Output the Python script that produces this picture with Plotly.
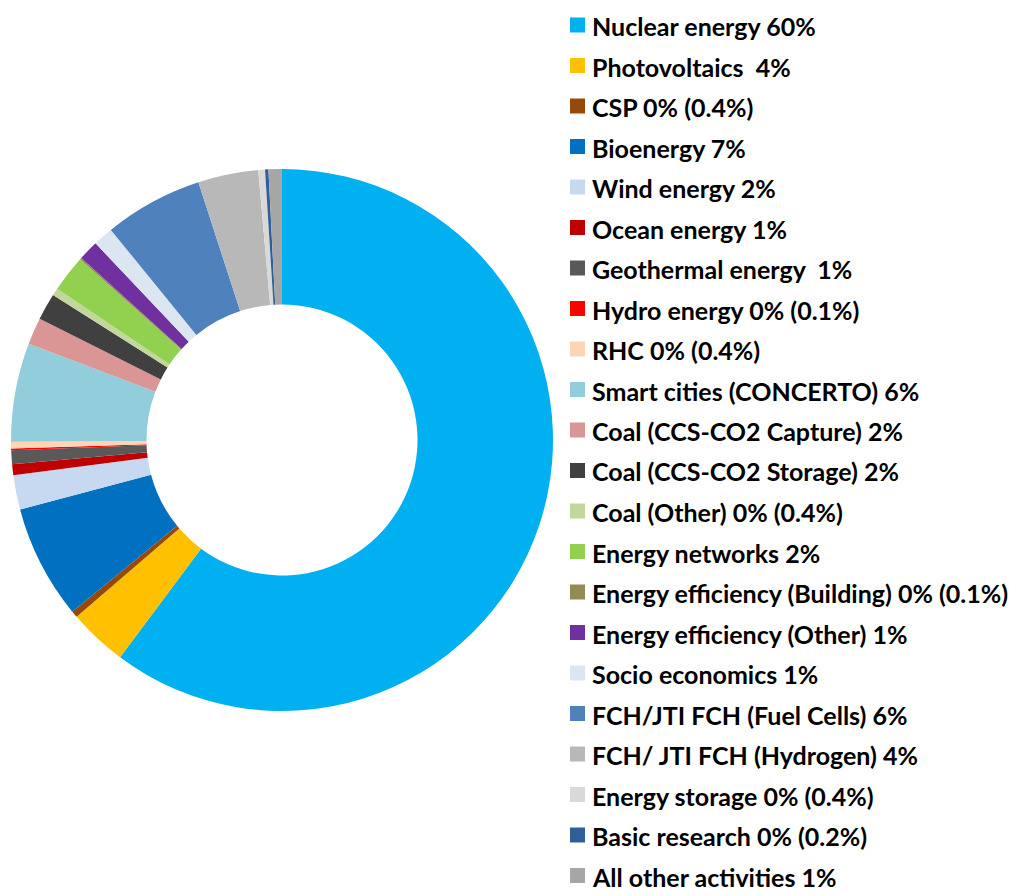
import plotly.graph_objects as go

labels = [
    "Nuclear energy 60%", "Photovoltaics  4%", "CSP 0% (0.4%)", "Bioenergy 7%",
    "Wind energy 2%", "Ocean energy 1%", "Geothermal energy  1%", "Hydro energy 0% (0.1%)",
    "RHC 0% (0.4%)", "Smart cities (CONCERTO) 6%", "Coal (CCS-CO2 Capture) 2%",
    "Coal (CCS-CO2 Storage) 2%", "Coal (Other) 0% (0.4%)", "Energy networks 2%",
    "Energy efficiency (Building) 0% (0.1%)", "Energy efficiency (Other) 1%",
    "Socio economics 1%", "FCH/JTI FCH (Fuel Cells) 6%", "FCH/ JTI FCH (Hydrogen) 4%",
    "Energy storage 0% (0.4%)", "Basic research 0% (0.2%)", "All other activities 1%",
]
values = [60.3, 3.5, 0.4, 6.8, 2.05, 0.65, 0.83, 0.1, 0.4, 5.9, 1.6, 1.6, 0.45, 2.2,
          0.1, 1.2, 1.2, 5.9, 3.6, 0.4, 0.2, 0.8]
colors = [
    "#00B0F0", "#FFC000", "#984807", "#0070C0", "#C6D9F1", "#C00000", "#595959",
    "#FF0000", "#FCD5B5", "#92CDDC", "#D99694", "#404040", "#C3D69B", "#92D050",
    "#948A54", "#7030A0", "#DCE6F2", "#4F81BD", "#B8B8B8", "#D9D9D9", "#2F5F98",
    "#A6A6A6",
]

W, H = 1024, 896
OFF = 8  # page body margin
cx, cy, R = 282 - OFF, 440 - OFF, 271

fig = go.Figure(go.Pie(
    labels=labels,
    values=values,
    marker=dict(colors=colors, line=dict(width=0)),
    hole=0.5,
    sort=False,
    direction="clockwise",
    rotation=0,
    textinfo="none",
    hoverinfo="label",
    showlegend=False,
    domain=dict(x=[(cx - R) / W, (cx + R) / W], y=[(H - cy - R) / H, (H - cy + R) / H]),
))

# Legend drawn as squares + text, one row per category
row0, step = 25 - OFF, 40.5
for i, (lab, col) in enumerate(zip(labels, colors)):
    yc = row0 + i * step
    fig.add_shape(
        type="rect", xref="paper", yref="paper",
        x0=(570 - OFF) / W, x1=(585 - OFF) / W,
        y0=1 - (yc - 7.5) / H, y1=1 - (yc + 7.5) / H,
        fillcolor=col, line=dict(width=0),
    )
    fig.add_annotation(
        xref="paper", yref="paper",
        x=(590 - OFF) / W, y=1 - (yc + 1) / H,
        xanchor="left", yanchor="middle",
        text=lab, showarrow=False,
        font=dict(family="Lato", size=25, color="black", weight="bold"),
    )

fig.update_layout(
    width=W, height=H,
    margin=dict(l=0, r=0, t=0, b=0),
    paper_bgcolor="white",
    plot_bgcolor="white",
)

fig.write_html("out.html")
